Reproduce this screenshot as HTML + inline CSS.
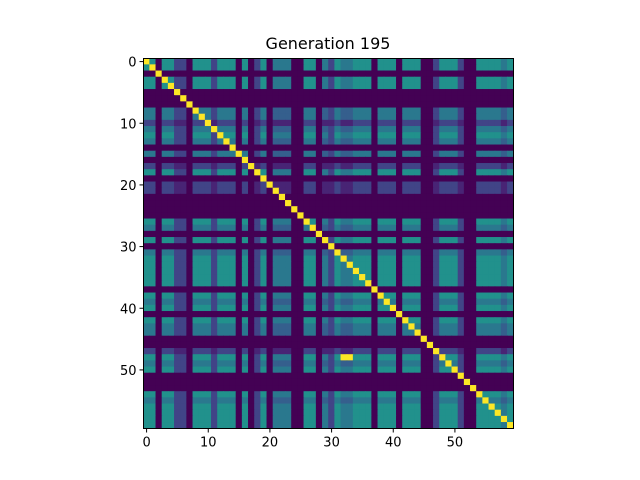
<!DOCTYPE html>
<html><head><meta charset="utf-8"><style>
html,body{margin:0;padding:0;background:#fff;width:640px;height:480px;overflow:hidden}
svg text{font-family:"DejaVu Sans","Liberation Sans",sans-serif;fill:#000}
</style></head><body>
<svg id="chart" width="640" height="480" xmlns="http://www.w3.org/2000/svg">
<text x="328" y="49" font-size="16" text-anchor="middle">Generation 195</text>
<g id="cells"></g>
<rect x="143.5" y="58.5" width="370" height="370" fill="none" stroke="#000" stroke-width="1"/>
<g id="xt"></g>
<g id="yt"></g>
</svg>
<script>
const matrixRows = [
"9505522055 5255505025 0444005504 2544555055 5055500255 5200555545",
"5905522055 5255505025 0444005504 2544555055 5055500255 5200555545",
"0090000000 0000000000 0000000000 0000000000 0000000000 0000000000",
"5509522055 5255505025 0444005504 2544555055 5055500255 5200555545",
"5505922055 5255505025 0444005504 2544555055 5055500255 5200555545",
"0000090000 0000000000 0000000000 0000000000 0000000000 0000000000",
"0000009000 0000000000 0000000000 0000000000 0000000000 0000000000",
"0000000900 0000000000 0000000000 0000000000 0000000000 0000000000",
"4404422094 4244404024 0333004403 2433444044 4044400244 4200444434",
"4404422049 4244404024 0333004403 2433444044 4044400244 4200444434",
"2202211022 9122202012 0111002201 1211222022 2022200122 2100222212",
"4404422044 4944404024 0333004403 2433444044 4044400244 4200444434",
"5505522055 5295505025 0444005504 2544555055 5055500255 5200555545",
"4404422044 4249404024 0333004403 2433444044 4044400244 4200444434",
"0000000000 0000900000 0000000000 0000000000 0000000000 0000000000",
"4404422044 4244494024 0333004403 2433444044 4044400244 4200444434",
"0000000000 0000009000 0000000000 0000000000 0000000000 0000000000",
"2202211022 2122202912 0111002201 1211222022 2022200122 2100222212",
"5505522055 5255505095 0444005504 2544555055 5055500255 5200555545",
"0000000000 0000000009 0000000000 0000000000 0000000000 0000000000",
"2202211022 2122202012 9111002201 1211222022 2022200122 2100222212",
"2202211022 2122202012 0911002201 1211222022 2022200122 2100222212",
"0000000000 0000000000 0090000000 0000000000 0000000000 0000000000",
"0000000000 0000000000 0009000000 0000000000 0000000000 0000000000",
"0000000000 0000000000 0000900000 0000000000 0000000000 0000000000",
"0000000000 0000000000 0000090000 0000000000 0000000000 0000000000",
"5505522055 5255505025 0444009504 2544555055 5055500255 5200555545",
"4404422044 4244404024 0333004903 2433444044 4044400244 4200444434",
"0000000000 0000000000 0000000090 0000000000 0000000000 0000000000",
"5505522055 5255505025 0444005509 2544555055 5055500255 5200555545",
"0000000000 0000000000 0000000000 9000000000 0000000000 0000000000",
"4404422044 4244404024 0333004403 2933444044 4044400244 4200444434",
"5505522055 5255505025 0444005504 2594555055 5055500255 5200555545",
"5505522055 5255505025 0444005504 2549555055 5055500255 5200555545",
"5505522055 5255505025 0444005504 2544955055 5055500255 5200555545",
"5505522055 5255505025 0444005504 2544595055 5055500255 5200555545",
"5505522055 5255505025 0444005504 2544559055 5055500255 5200555545",
"0000000000 0000000000 0000000000 0000000900 0000000000 0000000000",
"5505522055 5255505025 0444005504 2544555095 5055500255 5200555545",
"4404422044 4244404024 0333004403 2433444049 4044400244 4200444434",
"5505522055 5255505025 0444005504 2544555055 9055500255 5200555545",
"0000000000 0000000000 0000000000 0000000000 0900000000 0000000000",
"5505522055 5255505025 0444005504 2544555055 5095500255 5200555545",
"4404422044 4244404024 0333004403 2433444044 4049400244 4200444434",
"4404422044 4244404024 0333004403 2433444044 4044900244 4200444434",
"0000000000 0000000000 0000000000 0000000000 0000090000 0000000000",
"0000000000 0000000000 0000000000 0000000000 0000009000 0000000000",
"2202211022 2122202012 0111002201 1211222022 2022200922 2100222212",
"5505522055 5255505025 0444005504 2599555055 5055500295 5200555545",
"4404422044 4244404024 0333004403 2433444044 4044400249 4200444434",
"5505522055 5255505025 0444005504 2544555055 5055500255 9200555545",
"0000000000 0000000000 0000000000 0000000000 0000000000 0900000000",
"0000000000 0000000000 0000000000 0000000000 0000000000 0090000000",
"0000000000 0000000000 0000000000 0000000000 0000000000 0009000000",
"5505522055 5255505025 0444005504 2544555055 5055500255 5200955545",
"4404422044 4244404024 0333004403 2433444044 4044400244 4200494434",
"5505522055 5255505025 0444005504 2544555055 5055500255 5200559545",
"5505522055 5255505025 0444005504 2544555055 5055500255 5200555945",
"5505522055 5255505025 0444005504 2544555055 5055500255 5200555595",
"5505522055 5255505025 0444005504 2544555055 5055500255 5200555549"
];
const xTickLabels = ["0","10","20","30","40","50"];
const yTickLabels = ["0","10","20","30","40","50"];
const tickValues = [0,10,20,30,40,50];

const X0=143.5, Y0=58.5, SIZE=370, N=matrixRows.length;
const cw=SIZE/N;
function xScale(c){return X0+c*cw;}
function yScale(r){return Y0+r*cw;}
const vir=[[68,1,84],[72,36,117],[65,68,135],[53,95,141],[42,120,142],[33,145,140],[34,168,132],[68,191,112],[122,209,81],[253,231,37]];
function color(v){const t=v*9,i=Math.min(8,Math.floor(t)),f=t-i;const a=vir[i],b=vir[i+1];return 'rgb('+a.map((x,k)=>Math.round(x+(b[k]-x)*f)).join(',')+')';}
const NS="http://www.w3.org/2000/svg";
const g=document.getElementById('cells');
matrixRows.forEach((rowRaw,r)=>{
  const row=rowRaw.replace(/ /g,'');
  for(let c=0;c<row.length;c++){
    const v=parseInt(row[c])/9;
    const el=document.createElementNS(NS,'rect');
    
    
    el.setAttribute('x',xScale(c)-0.3);el.setAttribute('y',yScale(r)-0.3);
    el.setAttribute('width',cw+0.6);el.setAttribute('height',cw+0.6);
    el.setAttribute('fill',color(v));
    g.appendChild(el);
  }
});
const xt=document.getElementById('xt'), yt=document.getElementById('yt');
tickValues.forEach((t,i)=>{
  const x=xScale(t+0.5);
  const l=document.createElementNS(NS,'line');
  
  
  l.setAttribute('x1',x);l.setAttribute('x2',x);l.setAttribute('y1',Y0+SIZE);l.setAttribute('y2',Y0+SIZE+4);l.setAttribute('stroke','#000');
  xt.appendChild(l);
  const tx=document.createElementNS(NS,'text');
  
  
  tx.setAttribute('x',x);tx.setAttribute('y',Y0+SIZE+18);tx.setAttribute('font-size','13');tx.setAttribute('text-anchor','middle');
  tx.textContent=xTickLabels[i];xt.appendChild(tx);
  const y=yScale(t+0.5);
  const l2=document.createElementNS(NS,'line');
  
  
  l2.setAttribute('x1',X0-4);l2.setAttribute('x2',X0);l2.setAttribute('y1',y);l2.setAttribute('y2',y);l2.setAttribute('stroke','#000');
  yt.appendChild(l2);
  const ty=document.createElementNS(NS,'text');
  
  
  ty.setAttribute('x',X0-7);ty.setAttribute('y',y+5);ty.setAttribute('font-size','13');ty.setAttribute('text-anchor','end');
  ty.textContent=yTickLabels[i];yt.appendChild(ty);
});
</script>
</body></html>
